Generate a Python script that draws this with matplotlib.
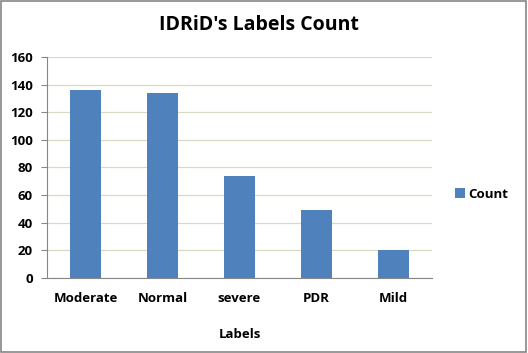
import matplotlib
matplotlib.use("Agg")
import matplotlib.pyplot as plt
from matplotlib.patches import Rectangle

categories = ["Moderate", "Normal", "severe", "PDR", "Mild"]
counts = [136, 134, 74, 49, 20]
yticks = [0, 20, 40, 60, 80, 100, 120, 140, 160]

plt.rcParams['font.family'] = ['Open Sans', 'DejaVu Sans']

fig = plt.figure(figsize=(5.28, 3.53), dpi=100)
fig.patches.append(Rectangle((0.001, 0.002), 0.996, 0.995, transform=fig.transFigure,
                             fill=False, edgecolor="#868686", linewidth=1.2))
ax = fig.add_axes([0.089, 0.2125, 0.729, 0.626])
x = range(len(categories))
ax.bar(x, counts, width=0.4, color="#4F81BD", label="Count", zorder=3)
ax.set_xlim(-0.5, len(categories) - 0.5)
ax.set_ylim(0, 160)
ax.set_yticks(yticks)
ax.set_xticks(list(x))
ax.set_xticklabels(categories)
ax.grid(axis="y", color="#D9D9C3", linewidth=0.9, zorder=0)
for s in ["top", "right"]:
    ax.spines[s].set_visible(False)
for s in ["left", "bottom"]:
    ax.spines[s].set_color("#868686")
ax.tick_params(axis="y", direction="out", length=4, color="#868686", labelsize=9.5, pad=6)
ax.tick_params(axis="x", direction="out", length=0, labelsize=9.5, pad=10)
for lab in ax.get_xticklabels() + ax.get_yticklabels():
    lab.set_fontweight("bold")
ax.set_xlabel("Labels", fontsize=9.5, fontweight="bold", labelpad=17)
fig.text(0.49, 0.928, "IDRiD's Labels Count", ha="center", va="center",
         fontsize=14, fontweight="bold")
fig.legend(loc="center left", bbox_to_anchor=(0.84, 0.45), frameon=False,
           prop={"weight": "bold", "size": 9.5},
           handlelength=0.7, handleheight=0.7, handletextpad=0.3)
fig.savefig("out.png", dpi=100)
